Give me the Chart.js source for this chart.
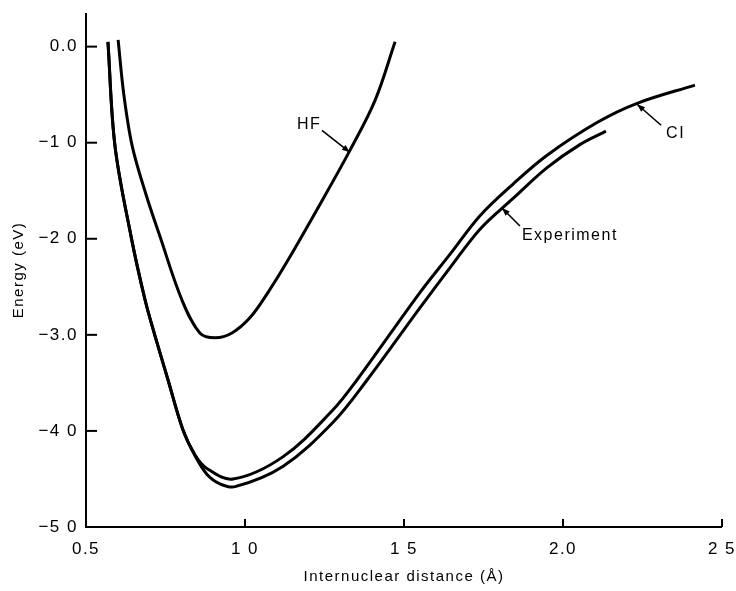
<!DOCTYPE html>
<html>
<head>
<meta charset="utf-8">
<script src="https://cdn.jsdelivr.net/npm/chart.js@4/dist/chart.umd.min.js"></script>
<style>
  html, body { margin: 0; padding: 0; background: #fff; }
  #wrap { width: 736px; height: 591px; }
</style>
</head>
<body>
<div id="wrap"><canvas id="c" width="736" height="591"></canvas></div>
<script>
// ---- data ----
const hfX = [0.601, 0.619, 0.645, 0.686, 0.733, 0.802, 0.858, 0.906, 0.959, 1.016, 1.072, 1.132, 1.236, 1.330, 1.409, 1.472];
const hfY = [0.07, -0.50, -1.03, -1.51, -1.98, -2.64, -2.98, -3.03, -2.98, -2.82, -2.56, -2.24, -1.64, -1.08, -0.56, 0.05];

const ciX = [0.569, 0.591, 0.642, 0.686, 0.717, 0.758, 0.805, 0.843, 0.880, 0.962, 1.119, 1.277, 1.352, 1.550, 1.645, 1.739, 1.843, 1.950, 2.107, 2.233, 2.415];
const ciY = [0.05, -1.03, -1.98, -2.64, -3.01, -3.47, -3.99, -4.25, -4.39, -4.50, -4.27, -3.78, -3.47, -2.56, -2.16, -1.76, -1.43, -1.13, -0.79, -0.59, -0.40];

const expX = [0.569, 0.591, 0.642, 0.686, 0.717, 0.758, 0.805, 0.843, 0.880, 0.921, 0.969, 1.119, 1.277, 1.384, 1.550, 1.645, 1.739, 1.843, 1.950, 2.053, 2.135];
const expY = [0.05, -1.03, -1.98, -2.64, -3.01, -3.47, -3.99, -4.26, -4.45, -4.55, -4.58, -4.37, -3.91, -3.47, -2.72, -2.30, -1.90, -1.58, -1.26, -1.02, -0.88];

const xTickVals = [0.5, 1.0, 1.5, 2.0, 2.5];
const xTickLabels = ["0.5", "1 0", "1 5", "2.0", "2 5"];
const yTickVals = [0, -1, -2, -3, -4, -5];
const yTickLabels = ["0.0", "\u22121 0", "\u22122 0", "\u22123.0", "\u22124 0", "\u22125 0"];

const xTitle = "Internuclear distance (\u00C5)";
const yTitle = "Energy (eV)";

// annotation anchors: arrow tip on curve (data), tail & text offsets (px)
const notes = [
  { text: "HF", tip: [1.330, -1.10], tail: [-28, -22], txt: [-53, -28] },
  { text: "CI", tip: [2.233, -0.60], tail: [24, 21], txt: [29, 29] },
  { text: "Experiment", tip: [1.808, -1.68], tail: [18, 18], txt: [20, 28] }
];

const pts = (xs, ys) => xs.map((x, i) => ({ x: x, y: ys[i] }));
const FONT = "'Liberation Sans', Arial, Helvetica, sans-serif";

const spacingPlugin = {
  id: 'spacing',
  beforeLayout(chart) { chart.ctx.letterSpacing = '1.5px'; },
  beforeDraw(chart) { chart.ctx.letterSpacing = '1.5px'; }
};

const decorPlugin = {
  id: 'decor',
  afterDraw(chart) {
    const ctx = chart.ctx;
    const xs = chart.scales.x, ys = chart.scales.y;
    const area = chart.chartArea;
    ctx.save();
    ctx.strokeStyle = '#000';
    ctx.fillStyle = '#000';
    ctx.lineWidth = 2;
    ctx.beginPath();
    ctx.moveTo(area.left, area.top);
    ctx.lineTo(area.left, area.bottom);
    ctx.lineTo(area.right, area.bottom);
    ctx.stroke();
    yTickVals.forEach(v => {
      const py = ys.getPixelForValue(v);
      ctx.beginPath();
      ctx.moveTo(area.left, py);
      ctx.lineTo(area.left + 11, py);
      ctx.stroke();
    });
    xTickVals.forEach(v => {
      const px = xs.getPixelForValue(v);
      ctx.beginPath();
      ctx.moveTo(px, area.bottom);
      ctx.lineTo(px, area.bottom - 8);
      ctx.stroke();
    });
    ctx.letterSpacing = '1.5px';
    ctx.font = "16px " + FONT;
    ctx.textBaseline = 'middle';
    ctx.textAlign = 'left';
    notes.forEach(n => {
      const tx = xs.getPixelForValue(n.tip[0]);
      const ty = ys.getPixelForValue(n.tip[1]);
      const sx = tx + n.tail[0], sy = ty + n.tail[1];
      ctx.lineWidth = 1.6;
      ctx.beginPath();
      ctx.moveTo(sx, sy);
      ctx.lineTo(tx, ty);
      ctx.stroke();
      const ang = Math.atan2(ty - sy, tx - sx);
      const L = 8, W = 3;
      ctx.beginPath();
      ctx.moveTo(tx, ty);
      ctx.lineTo(tx - L * Math.cos(ang) + W * Math.sin(ang), ty - L * Math.sin(ang) - W * Math.cos(ang));
      ctx.lineTo(tx - L * Math.cos(ang) - W * Math.sin(ang), ty - L * Math.sin(ang) + W * Math.cos(ang));
      ctx.closePath();
      ctx.fill();
      ctx.fillText(n.text, tx + n.txt[0], ty + n.txt[1]);
    });
    ctx.restore();
  }
};

const lineStyle = {
  borderColor: '#000',
  borderWidth: 3,
  pointRadius: 0,
  fill: false,
  tension: 0.35,
  borderCapStyle: 'butt',
  borderJoinStyle: 'round'
};

new Chart(document.getElementById('c'), {
  type: 'line',
  data: {
    datasets: [
      Object.assign({ label: 'HF', data: pts(hfX, hfY) }, lineStyle),
      Object.assign({ label: 'CI', data: pts(ciX, ciY) }, lineStyle),
      Object.assign({ label: 'Experiment', data: pts(expX, expY) }, lineStyle)
    ]
  },
  options: {
    responsive: false,
    animation: false,
    devicePixelRatio: 1,
    layout: { padding: { top: 13, right: 14, left: 0, bottom: 0 } },
    plugins: { legend: { display: false }, tooltip: { enabled: false } },
    scales: {
      x: {
        type: 'linear',
        min: 0.5, max: 2.5,
        afterBuildTicks: s => { s.ticks = xTickVals.map(v => ({ value: v })); },
        afterFit: s => { s.height = 64; s.paddingLeft = 0; s.paddingRight = 0; },
        grid: { display: false, drawTicks: false },
        border: { display: false },
        ticks: {
          padding: 12,
          color: '#000',
          font: { family: FONT, size: 17 },
          maxRotation: 0,
          autoSkip: false,
          callback: (v, i) => xTickLabels[i]
        },
        title: {
          display: true, text: xTitle, color: '#000',
          font: { family: FONT, size: 15 },
          padding: { top: 0, bottom: 5 }
        }
      },
      y: {
        type: 'linear',
        min: -5, max: 0.35,
        afterBuildTicks: s => { s.ticks = yTickVals.map(v => ({ value: v })); },
        afterFit: s => { s.width = 86; s.paddingTop = 0; s.paddingBottom = 0; },
        grid: { display: false, drawTicks: false },
        border: { display: false },
        ticks: {
          padding: 8,
          color: '#000',
          font: { family: FONT, size: 17 },
          autoSkip: false,
          callback: (v, i) => yTickLabels[i]
        },
        title: {
          display: true, text: yTitle, color: '#000',
          font: { family: FONT, size: 15 },
          padding: { top: 10, bottom: 0 }
        }
      }
    }
  },
  plugins: [spacingPlugin, decorPlugin]
});
</script>
</body>
</html>
